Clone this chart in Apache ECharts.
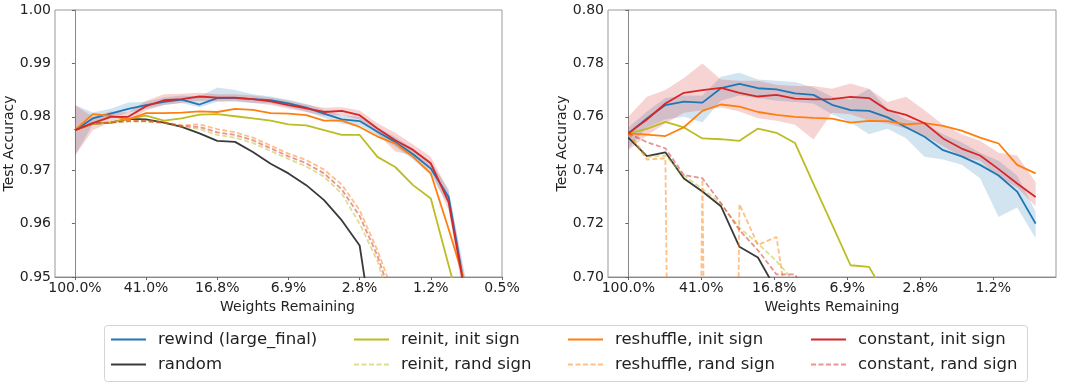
<!DOCTYPE html>
<html>
<head>
<meta charset="utf-8">
<script src="https://cdn.jsdelivr.net/npm/echarts@6/dist/echarts.min.js"></script>
<style>html,body{margin:0;padding:0;background:#fff;}#c{width:1080px;height:386px;}</style>
</head>
<body>
<div id="c"></div>
<script>
// ---------- data ----------
const iters = [0,1,2,3,4,5,6,7,8,9,10,11,12,13,14,15,16,17,18,19,20,21,22];
const tickLabels = ['100.0%','41.0%','16.8%','6.9%','2.8%','1.2%','0.5%'];
const seriesNames = ['rewind (large_final)','random','reinit, init sign','reinit, rand sign',
  'reshuffle, init sign','reshuffle, rand sign','constant, init sign','constant, rand sign'];

// left panel
const rewindL = [0.9775,0.9797,0.9806,0.9815,0.9822,0.9828,0.9832,0.9823,0.9835,0.9835,0.9833,0.9831,0.9825,0.9817,0.9806,0.9795,0.9792,0.9772,0.9753,0.9730,0.9703,0.9650,0.9460];
const randomL = [0.9775,0.9787,0.9789,0.9796,0.9795,0.9789,0.9781,0.9769,0.9755,0.9753,0.9734,0.9712,0.9694,0.9672,0.9644,0.9606,0.9559,0.9340];
const reinitInitL = [0.9775,0.9787,0.9789,0.9796,0.9802,0.9793,0.9797,0.9804,0.9805,0.9801,0.9797,0.9793,0.9786,0.9784,0.9775,0.9766,0.9766,0.9725,0.9706,0.9672,0.9647,0.9522,0.9400];
const reinitRandL = [0.9775,0.9787,0.9789,0.9791,0.9791,0.9788,0.9782,0.9777,0.9766,0.9761,0.9751,0.9736,0.9721,0.9707,0.9688,0.9656,0.9600,0.9530,0.9420];
const reshuffleInitL = [0.9775,0.9805,0.9802,0.9795,0.9807,0.9807,0.9808,0.9810,0.9809,0.9815,0.9813,0.9807,0.9806,0.9803,0.9793,0.9793,0.9781,0.9763,0.9750,0.9725,0.9694,0.9590,0.9480];
const reshuffleRandL = [0.9775,0.9788,0.9790,0.9793,0.9793,0.9790,0.9784,0.9786,0.9777,0.9771,0.9761,0.9746,0.9731,0.9719,0.9701,0.9673,0.9625,0.9550,0.9460];
const constantInitL = [0.9775,0.9788,0.9800,0.9800,0.9820,0.9831,0.9833,0.9838,0.9836,0.9836,0.9833,0.9829,0.9822,0.9816,0.9809,0.9811,0.9803,0.9778,0.9756,0.9738,0.9713,0.9640,0.9456];
const constantRandL = [0.9775,0.9788,0.9789,0.9792,0.9792,0.9789,0.9783,0.9781,0.9771,0.9766,0.9756,0.9741,0.9726,0.9713,0.9694,0.9664,0.9614,0.9540,0.9440];
const rewindLoL = [0.9727,0.9785,0.9797,0.9808,0.9815,0.9822,0.9826,0.9818,0.9828,0.9828,0.9826,0.9825,0.9818,0.9810,0.9798,0.9787,0.9784,0.9764,0.9744,0.9720,0.9690,0.9635,0.9440];
const rewindHiL = [0.9822,0.9808,0.9815,0.9827,0.9828,0.9836,0.9840,0.9838,0.9855,0.9850,0.9842,0.9838,0.9832,0.9824,0.9813,0.9803,0.9800,0.9780,0.9762,0.9740,0.9715,0.9665,0.9490];
const constantLoL = [0.9727,0.9775,0.9790,0.9793,0.9812,0.9822,0.9826,0.9830,0.9829,0.9830,0.9826,0.9822,0.9815,0.9809,0.9802,0.9803,0.9795,0.9768,0.9735,0.9728,0.9700,0.9625,0.9430];
const constantHiL = [0.9822,0.9800,0.9810,0.9808,0.9830,0.9842,0.9843,0.9845,0.9842,0.9842,0.9840,0.9836,0.9830,0.9823,0.9817,0.9818,0.9812,0.9788,0.9770,0.9748,0.9725,0.9660,0.9480];

// right panel
const rewindR = [0.7538,0.7594,0.7644,0.7657,0.7653,0.7707,0.7723,0.7707,0.7703,0.7688,0.7682,0.7645,0.7625,0.7622,0.7598,0.7561,0.7525,0.7475,0.7452,0.7420,0.7380,0.7320,0.7200];
const randomR = [0.7522,0.7453,0.7467,0.7369,0.7320,0.7265,0.7113,0.7073,0.6950];
const reinitInitR = [0.7538,0.7555,0.7581,0.7560,0.7519,0.7516,0.7510,0.7556,0.7540,0.7502,0.7349,0.7197,0.7044,0.7038,0.6920];
const reinitRandR = [0.7538,0.7450,0.7455,0.7380,0.7330,0.7275,0.7185,0.7125,0.7060,0.6980];
const reshuffleInitR = [0.7538,0.7533,0.7528,0.7561,0.7622,0.7646,0.7638,0.7618,0.7607,0.7600,0.7596,0.7593,0.7578,0.7585,0.7584,0.7572,0.7576,0.7566,0.7548,0.7522,0.7500,0.7420,0.7388];
const reshuffleRandR = [0.7538,0.7440,0.7445,0.1000,0.7365,0.1000,0.7273,0.7120,0.7150,0.6700];
const constantInitR = [0.7538,0.7590,0.7650,0.7690,0.7700,0.7708,0.7690,0.7676,0.7682,0.7668,0.7665,0.7666,0.7675,0.7670,0.7625,0.7607,0.7576,0.7519,0.7481,0.7455,0.7404,0.7350,0.7300];
const constantRandR = [0.7538,0.7505,0.7482,0.7382,0.7370,0.7276,0.7176,0.7100,0.7010,0.7010,0.6900];
const rewindLoR = [0.7480,0.7560,0.7590,0.7600,0.7580,0.7660,0.7680,0.7670,0.7660,0.7655,0.7650,0.7610,0.7580,0.7535,0.7555,0.7520,0.7450,0.7440,0.7420,0.7370,0.7225,0.7260,0.7145];
const rewindHiR = [0.7560,0.7620,0.7670,0.7680,0.7680,0.7750,0.7765,0.7740,0.7735,0.7730,0.7710,0.7675,0.7665,0.7705,0.7630,0.7590,0.7575,0.7535,0.7505,0.7465,0.7435,0.7380,0.7245];
const constantLoR = [0.7475,0.7530,0.7575,0.7615,0.7625,0.7635,0.7620,0.7595,0.7585,0.7570,0.7515,0.7615,0.7610,0.7585,0.7575,0.7555,0.7530,0.7490,0.7450,0.7435,0.7375,0.7335,0.7265];
const constantHiR = [0.7600,0.7675,0.7700,0.7745,0.7800,0.7740,0.7735,0.7735,0.7720,0.7715,0.7715,0.7705,0.7725,0.7705,0.7655,0.7675,0.7625,0.7570,0.7535,0.7510,0.7465,0.7455,0.7355];

// ---------- styling ----------
const C = {
  blue:'#1f77b4', black:'#3a3a3a', olive:'#bcbd22', oliveL:'rgba(188,189,34,0.5)',
  orange:'#ff7f0e', orangeL:'rgba(255,127,14,0.5)', red:'#d62728', redL:'rgba(214,39,40,0.5)'
};
const FONT = 'DejaVu Sans';
const TXT = '#222';

function pts(vals){ return vals.map((v,k)=>[iters[k], v]); }
function line(name, vals, color, dashed, ax){
  return {type:'line', name, xAxisIndex:ax, yAxisIndex:ax, data:pts(vals), symbol:'none',
    clip:true, z:3,
    lineStyle:{color, width:1.8, type: dashed ? [5,2.5] : 'solid'}, itemStyle:{color}};
}
// shaded band: one polygon through the axis scales (api.coord)
function band(lo, hi, color, id, ax){
  const rows = lo.map((l,k)=>[iters[k], l, hi[k]]);
  return {type:'custom', name:'_band'+id, xAxisIndex:ax, yAxisIndex:ax, data:rows, clip:true, z:1, silent:true,
    encode:{x:0, y:[1,2]},
    renderItem:(params, api)=>{
      if (params.dataIndex !== 0) return null;
      const top = rows.map(r=>api.coord([r[0], r[2]]));
      const bot = rows.map(r=>api.coord([r[0], r[1]])).reverse();
      return {type:'polygon', shape:{points: top.concat(bot)}, style:{fill:color}};
    }};
}

const panels = [
  {rewind:rewindL, random:randomL, ri:reinitInitL, rr:reinitRandL, si:reshuffleInitL, sr:reshuffleRandL,
   ci:constantInitL, cr:constantRandL, rLo:rewindLoL, rHi:rewindHiL, cLo:constantLoL, cHi:constantHiL},
  {rewind:rewindR, random:randomR, ri:reinitInitR, rr:reinitRandR, si:reshuffleInitR, sr:reshuffleRandR,
   ci:constantInitR, cr:constantRandR, rLo:rewindLoR, rHi:rewindHiR, cLo:constantLoR, cHi:constantHiR}
];

const series = [];
panels.forEach((p, ax)=>{
  series.push(band(p.rLo, p.rHi, 'rgba(31,119,180,0.2)', 'rw'+ax, ax));
  series.push(band(p.cLo, p.cHi, 'rgba(214,39,40,0.2)', 'ct'+ax, ax));
  series.push(line(seriesNames[0], p.rewind, C.blue, false, ax));
  series.push(line(seriesNames[1], p.random, C.black, false, ax));
  series.push(line(seriesNames[2], p.ri, C.olive, false, ax));
  series.push(line(seriesNames[3], p.rr, C.oliveL, true, ax));
  series.push(line(seriesNames[4], p.si, C.orange, false, ax));
  series.push(line(seriesNames[5], p.sr, C.orangeL, true, ax));
  series.push(line(seriesNames[6], p.ci, C.red, false, ax));
  series.push(line(seriesNames[7], p.cr, C.redL, true, ax));
});

const tickPosL = [0,4,8,12,16,20,24];
const tickPosR = [0,3.942,7.884,11.826,15.768,19.71];
function xAxisCfg(grid, min, max, pos){
  return {type:'value', gridIndex:grid, min, max,
    name:'Weights Remaining', nameLocation:'middle', nameGap:19,
    nameTextStyle:{fontFamily:FONT, fontSize:14, color:TXT, padding: grid===0 ? [0,0,0,18] : [0,0,0,0]},
    axisLine:{show:true, lineStyle:{color:'#888', width:1}},
    axisTick:{show:true, customValues:pos, length:3, lineStyle:{color:'#666'}},
    axisLabel:{customValues:pos, margin:4, fontFamily:FONT, fontSize:14, color:TXT,
      formatter:(v)=>{ let best=0; pos.forEach((q,k)=>{ if(Math.abs(q-v)<Math.abs(pos[best]-v)) best=k; }); return tickLabels[best]; }},
    splitLine:{show:false}};
}
function yAxisCfg(grid, min, max, step){
  return {type:'value', gridIndex:grid, min, max, interval:step,
    name:'Test Accuracy', nameLocation:'middle', nameGap:37,
    nameTextStyle:{fontFamily:FONT, fontSize:14, color:TXT},
    axisLine:{show:true, lineStyle:{color:'#888', width:1}},
    axisTick:{show:true, length:3, lineStyle:{color:'#666'}},
    axisLabel:{margin:4, fontFamily:FONT, fontSize:14, color:TXT, formatter:(v)=>v.toFixed(2)},
    splitLine:{show:false}};
}

function legendCol(left, names){
  return {orient:'vertical', left, top:331, padding:0, itemWidth:35, itemHeight:14, itemGap:8,
    data:names, z:10, selectedMode:false,
    itemStyle:{opacity:0},
    textStyle:{fontFamily:FONT, fontSize:16.5, color:TXT, padding:[0,0,0,7]}};
}

const option = {
  animation:false,
  backgroundColor:'#fff',
  grid:[
    {left:55, top:10, width:447, height:267, show:true, borderColor:'#999', borderWidth:1, containLabel:false},
    {left:608, top:10, width:448, height:267, show:true, borderColor:'#999', borderWidth:1, containLabel:false}
  ],
  xAxis:[xAxisCfg(0, -1.12, 24, tickPosL), xAxisCfg(1, -1.1, 23.1, tickPosR)],
  yAxis:[yAxisCfg(0, 0.95, 1.00, 0.01), yAxisCfg(1, 0.70, 0.80, 0.02)],
  legend:[
    legendCol(110, [seriesNames[0], seriesNames[1]]),
    legendCol(353, [seriesNames[2], seriesNames[3]]),
    legendCol(567, [seriesNames[4], seriesNames[5]]),
    legendCol(810, [seriesNames[6], seriesNames[7]])
  ],
  graphic:[{type:'rect', left:104, top:325, z:0,
    shape:{width:923, height:56, r:3}, style:{fill:'#fff', stroke:'#d5d5d5', lineWidth:1}}],
  series
};

const chart = echarts.init(document.getElementById('c'), null, {renderer:'canvas'});
chart.setOption(option);
</script>
</body>
</html>
